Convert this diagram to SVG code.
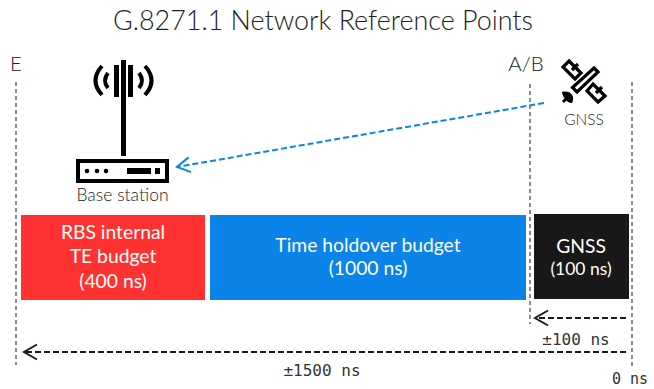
<svg xmlns="http://www.w3.org/2000/svg" width="654" height="389" viewBox="0 0 654 389">
<style>
text{font-family:Lato,"Noto Sans","Liberation Sans",sans-serif;fill:#222}
.w{fill:#fff;text-anchor:middle;font-size:19.300px}
.g{stroke:#8a8a8a;stroke-width:2;stroke-dasharray:4 3;fill:none}
.d{stroke:#1a1a1a;stroke-width:2;stroke-dasharray:6 3;fill:none}
.m{font-family:"DejaVu Sans Mono","Liberation Mono",monospace;font-size:16px;text-anchor:middle;fill:#333}
.p{fill:#fff;stroke:#000;stroke-width:3.200}
.a{fill:none;stroke:#000;stroke-width:4}
</style>
<defs>
<marker id="ab" markerUnits="userSpaceOnUse" markerWidth="18" markerHeight="18" refX="15" refY="9" orient="auto"><path d="M2 1.500L15 9L2 16.500" fill="none" stroke="#1a1a1a" stroke-width="2"/></marker>
<marker id="ag" markerUnits="userSpaceOnUse" markerWidth="18" markerHeight="18" refX="15" refY="9" orient="auto"><path d="M2 1.500L15 9L2 16.500" fill="none" stroke="#0a84e8" stroke-width="2"/></marker>
</defs>
<rect width="654" height="389" fill="#fff"/>
<text x="323" y="30" font-size="26.900" text-anchor="middle" font-weight="300">G.8271.1 Network Reference Points</text>
<g id="connectors">
<path class="g" d="M16 82V365"/>
<path class="g" d="M530 84V324"/>
<path class="g" d="M632 82V366"/>
<path d="M544 103L177 167" fill="none" stroke="#0a84e8" stroke-width="2" stroke-dasharray="6 3" marker-end="url(#ag)"/>
<path class="d" d="M626 318H535" marker-end="url(#ab)"/>
<path class="d" d="M626 352H24" marker-end="url(#ab)"/>
</g>
<g id="label-e"><text x="16" y="71" font-size="20.500" text-anchor="middle" font-weight="300">E</text></g>
<g id="label-ab"><text x="526" y="71" font-size="20.500" text-anchor="middle" font-weight="300">A/B</text></g>
<g id="base-station">
<rect x="121" y="60" width="5" height="96" fill="#000"/>
<rect x="114" y="65" width="5" height="32" fill="#000"/>
<rect x="128" y="65" width="5" height="32" fill="#000"/>
<path class="a" d="M108 73Q102 80.500 108 88M139 73Q145 80.500 139 88"/>
<path class="a" d="M102 66Q89 80.500 102 95M145 66Q158 80.500 145 95"/>
<rect x="78" y="161" width="89" height="20" fill="#fff" stroke="#000" stroke-width="4"/>
<circle cx="87" cy="171" r="2.300" fill="#000"/><circle cx="97" cy="171" r="2.300" fill="#000"/><circle cx="106" cy="171" r="2.300" fill="#000"/>
<rect x="127" y="168" width="24" height="6" fill="#000"/>
<rect x="155" y="168" width="5" height="6" fill="#000"/>
<text x="122.500" y="201" font-size="17.500" text-anchor="middle" font-weight="300">Base station</text>
</g>
<g id="gnss-icon">
<path class="p" d="M569 61L581 73L575 79L563 67Z"/>
<path class="p" d="M572 70L578 64"/>
<path class="p" d="M594 68L598 72L577 92L572.500 87.500Z"/>
<path class="p" d="M593 84L605 96L598 102L587 91Z"/>
<path class="p" d="M596 93L602 87"/>
<path d="M562 92C569 90 576 95 572 103C567 103 563 98 562 92Z" fill="#000"/>
<path d="M563 102L569 96" fill="none" stroke="#000" stroke-width="3"/>
<text x="584" y="125" font-size="15.500" text-anchor="middle" font-weight="300">GNSS</text>
</g>
<g id="block-rbs">
<rect x="21" y="215" width="184" height="85" fill="#ff3232"/>
<text class="w" x="113" y="239">RBS internal</text>
<text class="w" x="113" y="263">TE budget</text>
<text class="w" x="113" y="288">(400 ns)</text>
</g>
<g id="block-holdover">
<rect x="210" y="215" width="316" height="85" fill="#0a84e8"/>
<text class="w" x="368" y="252">Time holdover budget</text>
<text class="w" x="368" y="275">(1000 ns)</text>
</g>
<g id="block-gnss">
<rect x="534" y="214" width="95" height="85" fill="#181818"/>
<text class="w" x="581" y="253">GNSS</text>
<text class="w" x="581" y="275" style="font-size:17.500px">(100 ns)</text>
</g>
<text class="m" x="576" y="345">±100 ns</text>
<text class="m" x="322" y="376">±1500 ns</text>
<text class="m" x="630" y="384" style="font-size:15px">0 ns</text>
</svg>
